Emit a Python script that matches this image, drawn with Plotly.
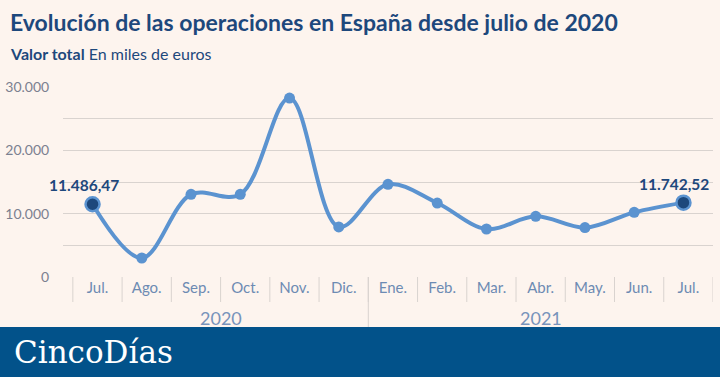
import plotly.graph_objects as go

years = ["2020", "2021"]
year_sizes = [6, 7]
months = ["Jul.", "Ago.", "Sep.", "Oct.", "Nov.", "Dic.",
          "Ene.", "Feb.", "Mar.", "Abr.", "May.", "Jun.", "Jul."]
values = [11486.47, 3000, 13050, 13050, 28250, 7900,
          14630, 11680, 7580, 9580, 7800, 10210, 11742.52]
y_ticks = [0, 10000, 20000, 30000]

W, H = 720, 377
L, R, T, B = 63, 7, 87, 100
PW, PH = W - L - R, H - T - B
BG = "#fdf4ee"
LINE = "#5b93d0"
DARK = "#1d487c"
GRID = "#d9d3cf"
AXC = "#6d8bb3"
FONT = "Lato"


def py(px):
    return (H - B - px) / PH


def pxx(px):
    return (px - L) / PW


def es_num(v, dec=0):
    s = f"{v:,.{dec}f}"
    return s.replace(",", "X").replace(".", ",").replace("X", ".")


idx = list(range(len(months)))

fig = go.Figure()
fig.add_trace(go.Scatter(
    x=idx, y=values, mode="lines+markers",
    line=dict(color=LINE, width=4, shape="spline", smoothing=1.0),
    marker=dict(size=11, color=LINE),
    hoverinfo="skip", showlegend=False, cliponaxis=False,
))
ends = [0, len(values) - 1]
fig.add_trace(go.Scatter(
    x=[idx[i] for i in ends], y=[values[i] for i in ends], mode="markers",
    marker=dict(size=14, color=DARK, line=dict(color=LINE, width=2.5)),
    hoverinfo="skip", showlegend=False, cliponaxis=False,
))
for i in ends:
    fig.add_annotation(x=idx[i], y=values[i], text=f"<b>{es_num(values[i], 2)}</b>",
                       showarrow=False, xshift=-9, yshift=19,
                       font=dict(family=FONT, size=15.5, color=DARK))

minor = list(range(0, 30001, 5000))
fig.update_layout(
    width=W, height=H,
    margin=dict(l=L, r=R, t=T, b=B, autoexpand=False),
    paper_bgcolor=BG, plot_bgcolor=BG,
    separators=",.",
    font=dict(family=FONT),
    xaxis=dict(
        range=[-0.6, 12.6], automargin=False,
        tickvals=[i + 0.1 for i in idx], ticktext=months,
        showgrid=False, zeroline=False, showline=False, ticks="",
        tickfont=dict(family=FONT, size=15, color=AXC),
    ),
    yaxis=dict(
        range=[0, 30000], automargin=False,
        tickvals=minor,
        ticktext=[es_num(v) if v in y_ticks else "" for v in minor],
        showgrid=True, gridcolor=GRID, gridwidth=1,
        zeroline=False, showline=False,
        ticks="outside", ticklen=10, tickcolor="rgba(0,0,0,0)",
        tickfont=dict(family=FONT, size=14, color="#7b8090"),
    ),
)

# month separators and year divider
for k in range(len(months) + 1):
    fig.add_shape(type="line", xref="x", yref="paper", x0=k - 0.4, x1=k - 0.4,
                  y0=0, y1=py(302), line=dict(color=GRID, width=1))
start = 0
for yr, n in zip(years, year_sizes):
    mid = start + (n - 1) / 2 + 0.1
    fig.add_annotation(xref="x", yref="paper", x=mid, y=py(318), text=yr,
                       showarrow=False, yanchor="middle",
                       font=dict(family=FONT, size=18, color="#7793bb"))
    start += n
    if start < len(months):
        fig.add_shape(type="line", xref="x", yref="paper", x0=start - 0.4, x1=start - 0.4,
                      y0=0, y1=py(327), line=dict(color=GRID, width=1))

fig.add_annotation(xref="paper", yref="paper", x=pxx(8), y=py(22),
                   xanchor="left", yanchor="middle", showarrow=False,
                   text="<b>Evolución de las operaciones en España desde julio de 2020</b>",
                   font=dict(family=FONT, size=23, color=DARK))
fig.add_annotation(xref="paper", yref="paper", x=pxx(8), y=py(53),
                   xanchor="left", yanchor="middle", showarrow=False,
                   text="<b>Valor total</b> En miles de euros",
                   font=dict(family=FONT, size=16, color=DARK))

fig.add_shape(type="rect", xref="paper", yref="paper",
              x0=pxx(-2), x1=pxx(W + 2), y0=py(327), y1=py(H + 2),
              fillcolor="#02528a", line_width=0, layer="above")
fig.add_annotation(xref="paper", yref="paper", x=pxx(12), y=py(352),
                   xanchor="left", yanchor="middle", showarrow=False,
                   text="CincoDías",
                   font=dict(family="DejaVu Serif", size=31, color="white"))

fig.write_html("out.html", config={"displayModeBar": False},
               post_script="document.body.style.margin='0';document.body.style.overflow='hidden';")
